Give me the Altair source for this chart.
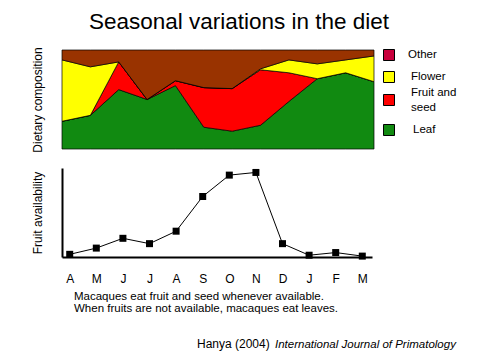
import altair as alt
import pandas as pd

# ---------------- data ----------------
months = ["A", "M", "J", "J", "A", "S", "O", "N", "D", "J", "F", "M"]
leaf = [28, 34, 60, 50, 64, 22, 18, 24, 48, 71, 77, 68]
fruit = [0, 0, 28, 0, 5, 40, 43, 56, 29, 0, 0, 0]
flower = [62, 49, 0, 0, 0, 0, 0, 1, 13, 15, 13, 26]
other = [10, 17, 12, 50, 31, 38, 39, 19, 10, 14, 10, 6]
availability = [3, 10, 21, 15, 29, 68, 92, 95, 15, 2, 5, 1]

categories = ["Leaf", "Fruit and seed", "Flower", "Other"]
area_colors = ["#118a11", "#ff0000", "#ffff00", "#993300"]
legend_labels = [["Other"], ["Flower"], ["Fruit and", "seed"], ["Leaf"]]
legend_colors = ["#c8003c", "#ffff00", "#ff0000", "#118a11"]

title_text = "Seasonal variations in the diet"
note_lines = ["Macaques eat fruit and seed whenever available.",
              "When fruits are not available, macaques eat leaves."]
cite_plain = "Hanya (2004)"
cite_italic = "International Journal of Primatology"

FONT = "Liberation Sans"

# ---------------- tables ----------------
rows = []
for series, name in [(leaf, "Leaf"), (fruit, "Fruit and seed"), (flower, "Flower"), (other, "Other")]:
    for i, v in enumerate(series):
        rows.append({"idx": i, "cat": name, "value": v, "ord": categories.index(name)})
diet = pd.DataFrame(rows)
avail = pd.DataFrame({"idx": list(range(12)), "avail": availability})
one = pd.DataFrame({"a": [0]})

# ---------------- top panel ----------------
W1, H1 = 312, 99
areas = alt.Chart(diet).mark_area(stroke="black", strokeWidth=0.7, interpolate="linear").encode(
    x=alt.X("idx:Q", scale=alt.Scale(domain=[0, 11], nice=False, zero=False), axis=None),
    y=alt.Y("value:Q", stack="zero", scale=alt.Scale(domain=[0, 100], nice=False),
            axis=alt.Axis(title="Dietary composition", labels=False, ticks=False, domain=False,
                          grid=False, titleFont=FONT, titleFontSize=12, titleFontWeight="normal",
                          titleColor="black", titlePadding=18)),
    color=alt.Color("cat:N", scale=alt.Scale(domain=categories, range=area_colors), legend=None),
    order=alt.Order("ord:Q"),
)

layers = [areas]
sq_y = [5, 27, 50, 80]
lab_x = [346, 349, 349, 351]
for k, (lab, col) in enumerate(zip(legend_labels, legend_colors)):
    layers.append(alt.Chart(one).mark_square(size=121, color=col, opacity=1, stroke="black", strokeWidth=1).encode(
        x=alt.value(327), y=alt.value(sq_y[k])))
    if len(lab) == 1:
        layers.append(alt.Chart(one).mark_text(text=lab[0], font=FONT, fontSize=11.5, align="left",
                                               baseline="middle", color="black").encode(
            x=alt.value(lab_x[k]), y=alt.value(sq_y[k])))
    else:
        for j, t in enumerate(lab):
            layers.append(alt.Chart(one).mark_text(text=t, font=FONT, fontSize=11.5, align="left",
                                                   baseline="middle", color="black").encode(
                x=alt.value(lab_x[k]), y=alt.value(sq_y[k] - 7 + 15 * j)))

layers.append(alt.Chart(one).mark_text(text=title_text, font=FONT, fontSize=22.5, align="center",
                                       baseline="alphabetic", color="black").encode(
    x=alt.value(177), y=alt.value(-21)))

top = alt.layer(*layers).properties(width=W1, height=H1)

# ---------------- bottom panel ----------------
W2, H2 = 310, 89
month_expr = "[" + ",".join("'%s'" % m for m in months) + "][datum.value]"
xb = alt.X("idx:Q", scale=alt.Scale(domain=[-0.29, 11.365], nice=False, zero=False),
           axis=alt.Axis(title=None, values=list(range(12)), labelExpr=month_expr, ticks=False,
                         grid=False, domainColor="black", domainWidth=2, labelFont=FONT,
                         labelFontSize=12, labelColor="black", labelPadding=16, labelFlush=False))
yb = alt.Y("avail:Q", scale=alt.Scale(domain=[0, 100], nice=False),
           axis=alt.Axis(title="Fruit availability", labels=False, ticks=False, grid=False,
                         domainColor="black", domainWidth=2, titleFont=FONT, titleFontSize=12,
                         titleFontWeight="normal", titleColor="black", titlePadding=18))
line = alt.Chart(avail).mark_line(color="black", strokeWidth=1).encode(x=xb, y=yb)
pts = alt.Chart(avail).mark_square(size=49, color="black", opacity=1).encode(x=xb, y=yb)

bl = [line, pts]
for j, t in enumerate(note_lines):
    bl.append(alt.Chart(one).mark_text(text=t, font=FONT, fontSize=11.5, align="left",
                                       baseline="alphabetic", color="black").encode(
        x=alt.value(12), y=alt.value(132 + 12 * j)))
bl.append(alt.Chart(one).mark_text(text=cite_plain, font=FONT, fontSize=12, align="left",
                                   baseline="alphabetic", color="black").encode(
    x=alt.value(135), y=alt.value(180)))
bl.append(alt.Chart(one).mark_text(text=cite_italic, font=FONT, fontSize=11.5, fontStyle="italic",
                                   align="left", baseline="alphabetic", color="black").encode(
    x=alt.value(213), y=alt.value(180)))

bottom = alt.layer(*bl).properties(width=W2, height=H2)

chart = alt.vconcat(top, bottom, spacing=15).properties(
    padding={"left": 22, "top": 3, "right": 5, "bottom": 5}
).configure(background="white").configure_view(strokeWidth=0, stroke="transparent")

chart.save("out.html", embed_options={"renderer": "svg", "actions": False})
